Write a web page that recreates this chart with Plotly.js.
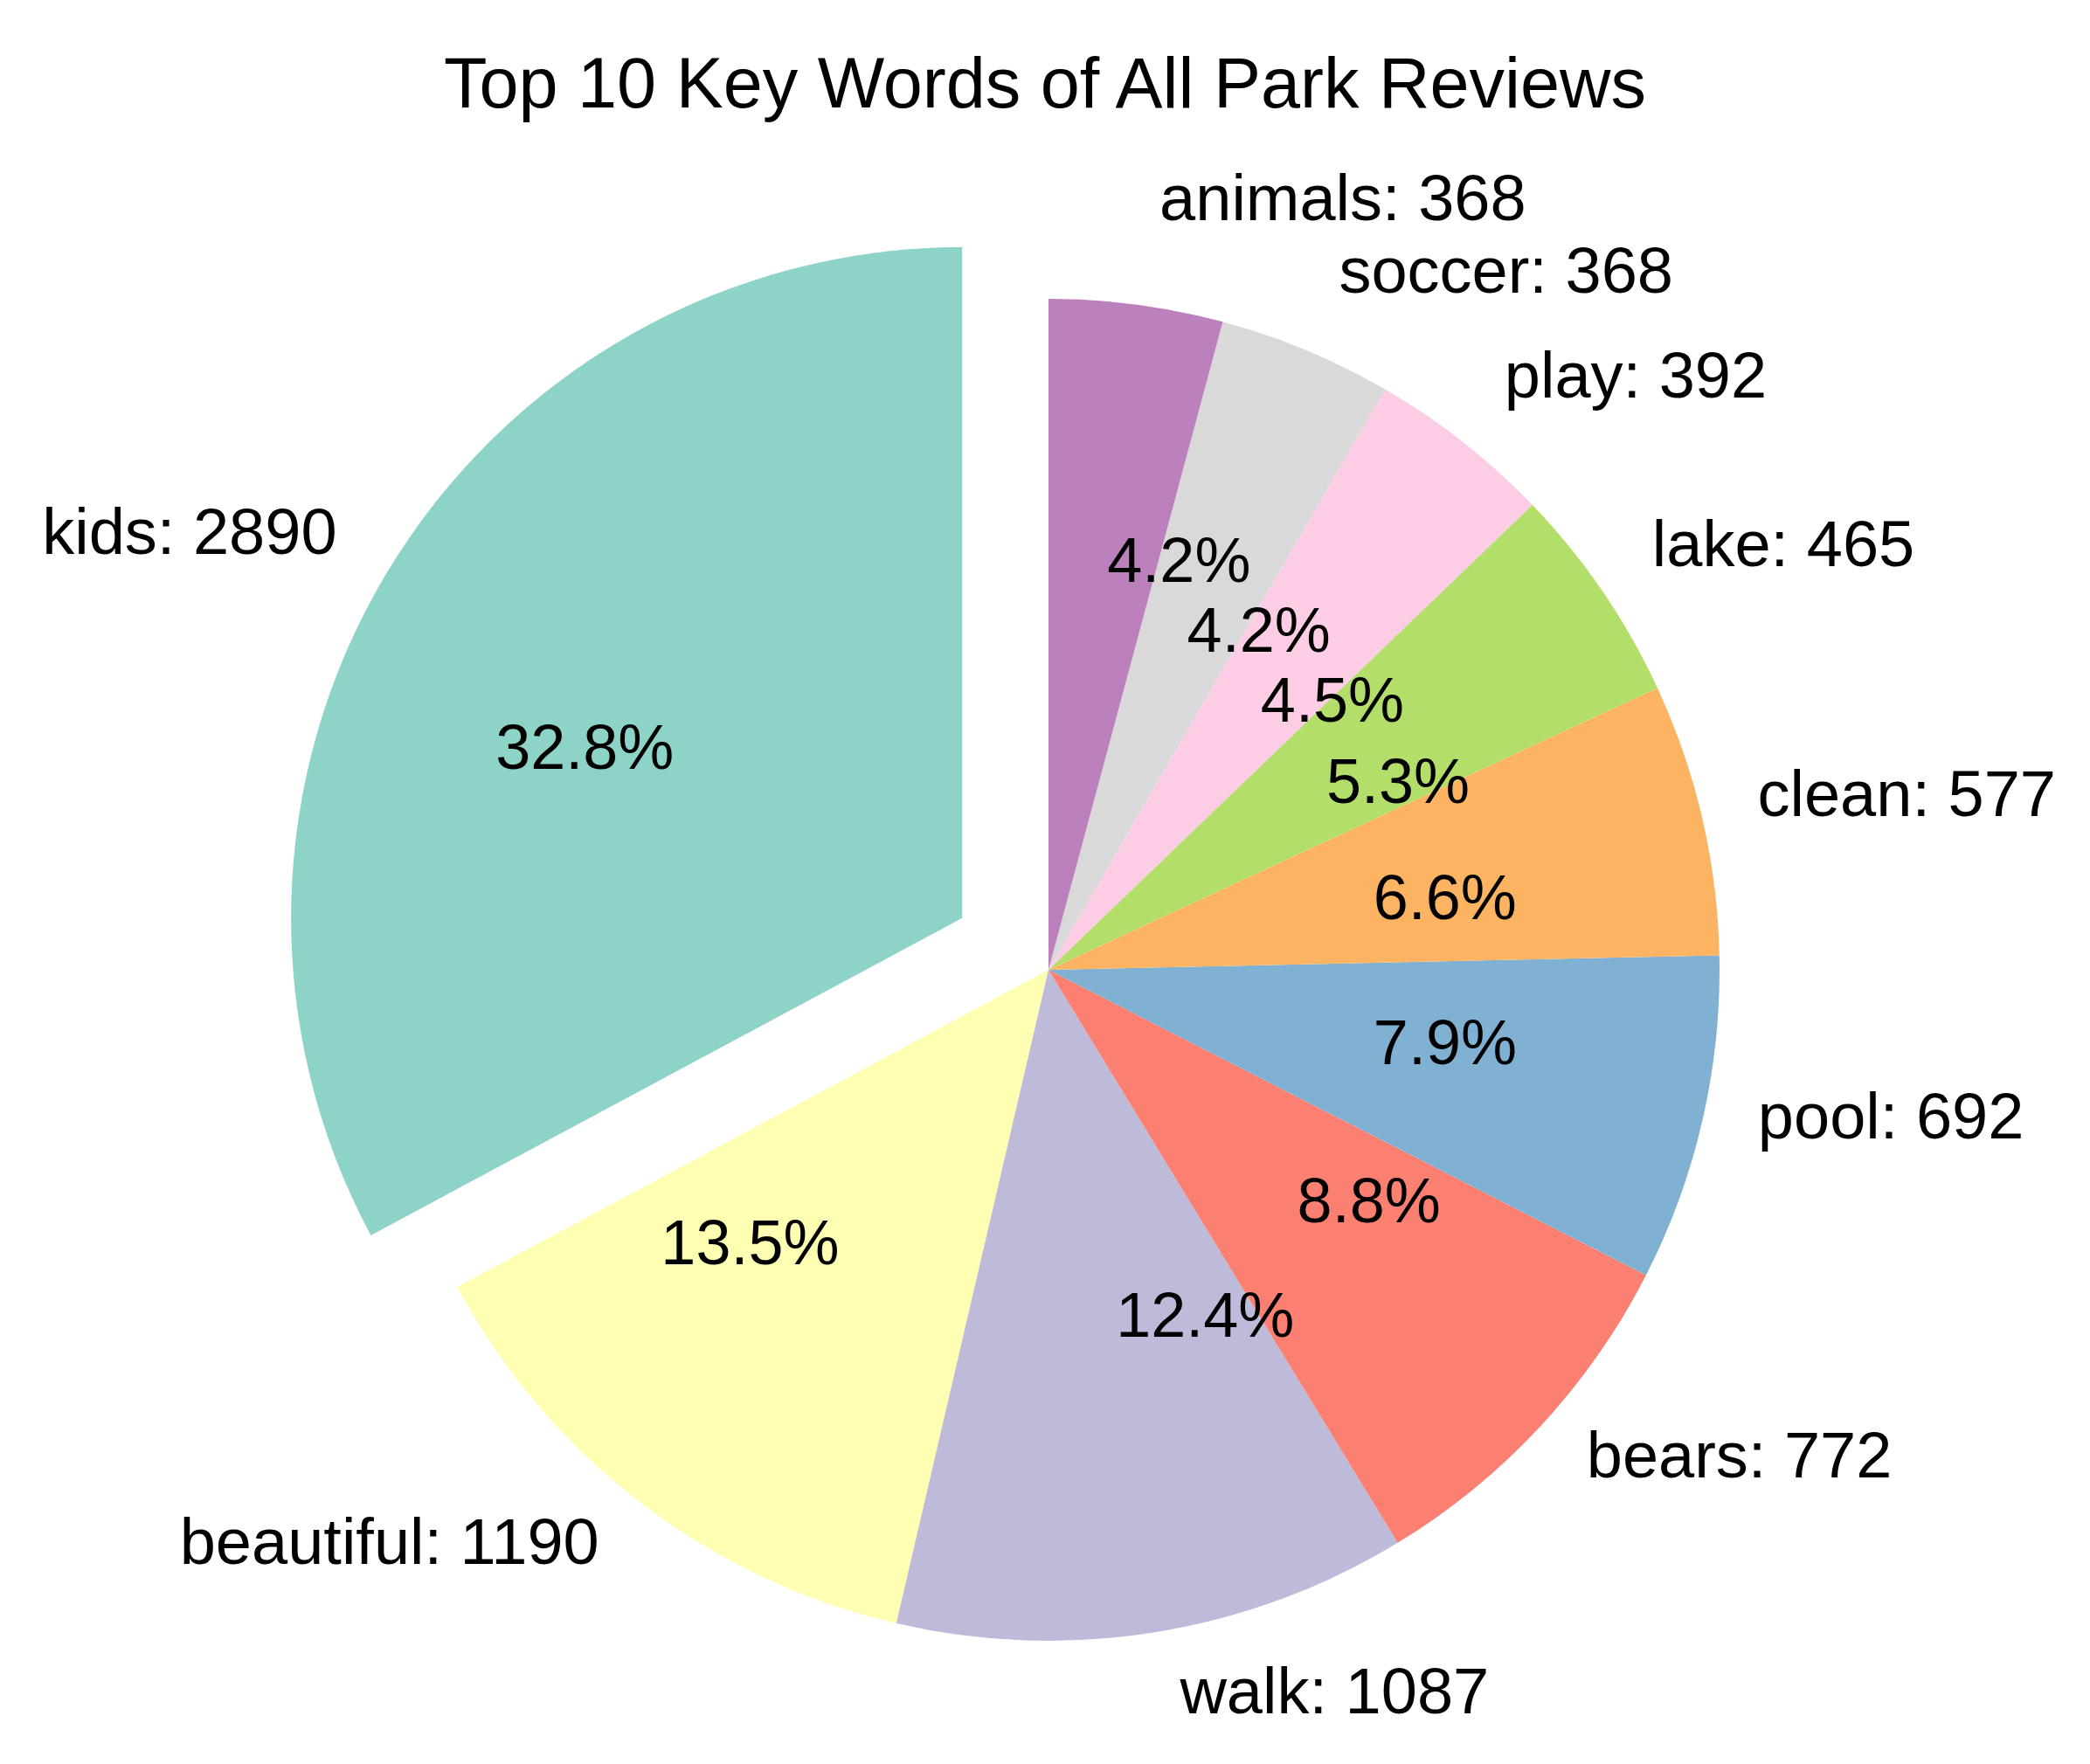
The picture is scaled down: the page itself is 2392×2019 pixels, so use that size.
<!DOCTYPE html>
<html>
<head>
<meta charset="utf-8">
<script src="https://cdn.plot.ly/plotly-3.0.1.min.js"></script>
<style>
  body { margin: 0; background: #fff; }
  #plot { width: 2392px; height: 2019px; }
  /* the original has no leader lines */
  #plot path.textline { display: none; }
</style>
</head>
<body>
<div id="plot"></div>
<script>
var words = ["kids", "beautiful", "walk", "bears", "pool",
  "clean", "lake", "play", "soccer", "animals"];
var counts = [2890, 1190, 1087, 772, 692, 577, 465, 392, 368, 368];
var explode = 0.15; // only the first slice (kids) is pulled out

// Set3 palette, like the original
var colors = ["#8dd3c7", "#ffffb3", "#bebada", "#fb8072", "#80b1d3",
  "#fdb462", "#b3de69", "#fccde5", "#d9d9d9", "#bc80bd"];
var clear = words.map(function () { return "rgba(0,0,0,0)"; });

var W = 2392, H = 2019;
var cx = 1200, cy = 1110, R = 768;   // pie centre and radius in px

// plotly shrinks the pie by (1 + max pull), so size the domain for that
function domainFor(r, pull) {
  var half = r * (1 + pull);
  return {
    x: [(cx - half) / W, (cx + half) / W],
    y: [(H - cy - half) / H, (H - cy + half) / H]
  };
}
// same pull distance in px whatever the radius
function pullsFor(r) {
  return words.map(function (w, i) { return i === 0 ? explode * R / r : 0; });
}

// with counterclockwise plotly makes the first slice END at 12 o'clock,
// so turn it back by the first slice's share to start there instead
var total = counts.reduce(function (a, b) { return a + b; }, 0);
var rot = -360 * counts[0] / total;

var fontName = "Liberation Sans, Arial, sans-serif";

function pieTrace(r, extra) {
  var t = {
    type: "pie",
    labels: words,
    values: counts,
    pull: pullsFor(r),
    sort: false,
    direction: "counterclockwise",
    rotation: rot,
    domain: domainFor(r, explode * R / r),
    showlegend: false,
    hoverinfo: "skip"
  };
  for (var key in extra) t[key] = extra[key];
  return t;
}

// the coloured slices
var slices = pieTrace(R, {
  marker: {colors: colors, line: {width: 0}},
  textinfo: "none",
  hoverinfo: "label+value+percent"
});

// percentages: outside text of a small clear pie lands about 0.6 r out
var rSmall = 0.47 * R;
var pcts = pieTrace(rSmall, {
  marker: {colors: clear, line: {width: 0}},
  texttemplate: "%{percent:.1%}",
  textposition: "outside",
  outsidetextfont: {family: fontName, size: 72, color: "#000"}
});

// word: count labels round the outside, on a slightly bigger clear pie
var rBig = 1.075 * R;
var names = pieTrace(rBig, {
  marker: {colors: clear, line: {width: 0}},
  texttemplate: "%{label}: %{value}",
  textposition: "outside",
  outsidetextfont: {family: fontName, size: 74, color: "#000"}
});

var layOut = {
  width: W,
  height: H,
  margin: {l: 0, r: 0, t: 0, b: 0},
  paper_bgcolor: "#fff",
  title: {
    text: "Top 10 Key Words of All Park Reviews",
    font: {family: fontName, size: 81, color: "#000"},
    x: 0.5, xanchor: "center",
    y: 0.953, yanchor: "middle", yref: "container"
  }
};

Plotly.newPlot("plot", [slices, pcts, names], layOut, {displayModeBar: false});
</script>
</body>
</html>
